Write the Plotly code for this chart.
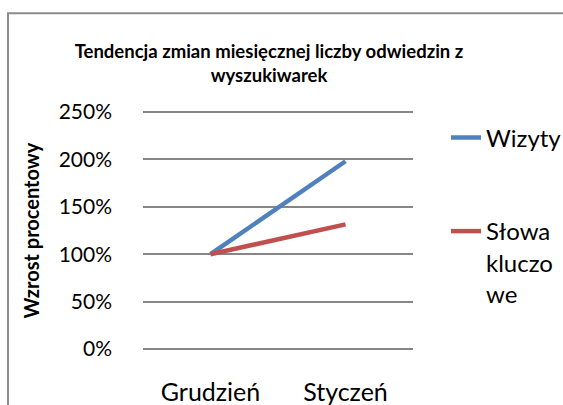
import plotly.graph_objects as go

categories = ["Grudzień", "Styczeń"]
wizyty = [100, 198]
slowa = [100, 131.5]
series_names = ["Wizyty", "Słowa<br>kluczo<br>we"]
y_ticks = [0, 50, 100, 150, 200, 250]
y_ticklabels = ["0%", "50%", "100%", "150%", "200%", "250%"]

FONT = "Lato"

fig = go.Figure()
fig.add_trace(go.Scatter(x=categories, y=wizyty, mode="lines", name=series_names[0],
                         line=dict(color="#4F81BD", width=4.5), legend="legend"))
fig.add_trace(go.Scatter(x=categories, y=slowa, mode="lines", name=series_names[1],
                         line=dict(color="#C0504D", width=4.5), legend="legend2"))

fig.update_layout(
    width=563, height=405,
    margin=dict(l=143, r=150, t=110, b=54, autoexpand=False),
    paper_bgcolor="white", plot_bgcolor="white",
    font=dict(family=FONT, color="black"),
    title=dict(text="<b>Tendencja zmian miesięcznej liczby odwiedzin z<br>wyszukiwarek</b>",
               x=0.4778, xanchor="center", xref="container", y=1 - 58 / 405, yanchor="middle",
               yref="container", font=dict(size=18.5, family=FONT)),
    showlegend=True,
    legend=dict(x=0.7922, xanchor="left", y=1 - 138 / 405, yanchor="middle", valign="top",
                xref="container", yref="container",
                font=dict(size=24, family=FONT), bgcolor="rgba(0,0,0,0)"),
    legend2=dict(x=0.7922, xanchor="left", y=1 - 209 / 405, yanchor="top", valign="top",
                 xref="container", yref="container",
                 font=dict(size=24, family=FONT), bgcolor="rgba(0,0,0,0)"),
    xaxis=dict(type="category", range=[-0.5, 1.5], showgrid=False, showline=False,
               ticks="", tickfont=dict(size=25), ticklabelstandoff=24, automargin=False),
    yaxis=dict(range=[-2, 252], tickvals=y_ticks, ticktext=y_ticklabels,
               showgrid=True, gridcolor="#868686", gridwidth=1.5, zeroline=False,
               showline=False, ticks="", tickfont=dict(size=21), ticklabelstandoff=30,
               automargin=False,
               title=dict(text="<b>Wzrost procentowy</b>", font=dict(size=20), standoff=13)),
    shapes=[dict(type="rect", xref="paper", yref="paper", x0=-0.5, x1=2, y0=-1, y1=1.401,
                 line=dict(color="#8c8c8c", width=2), fillcolor="rgba(0,0,0,0)", layer="below")],
)

fig.write_html("out.html", config={"displayModeBar": False},
               post_script="document.body.style.margin='0';document.body.style.overflow='hidden';")
